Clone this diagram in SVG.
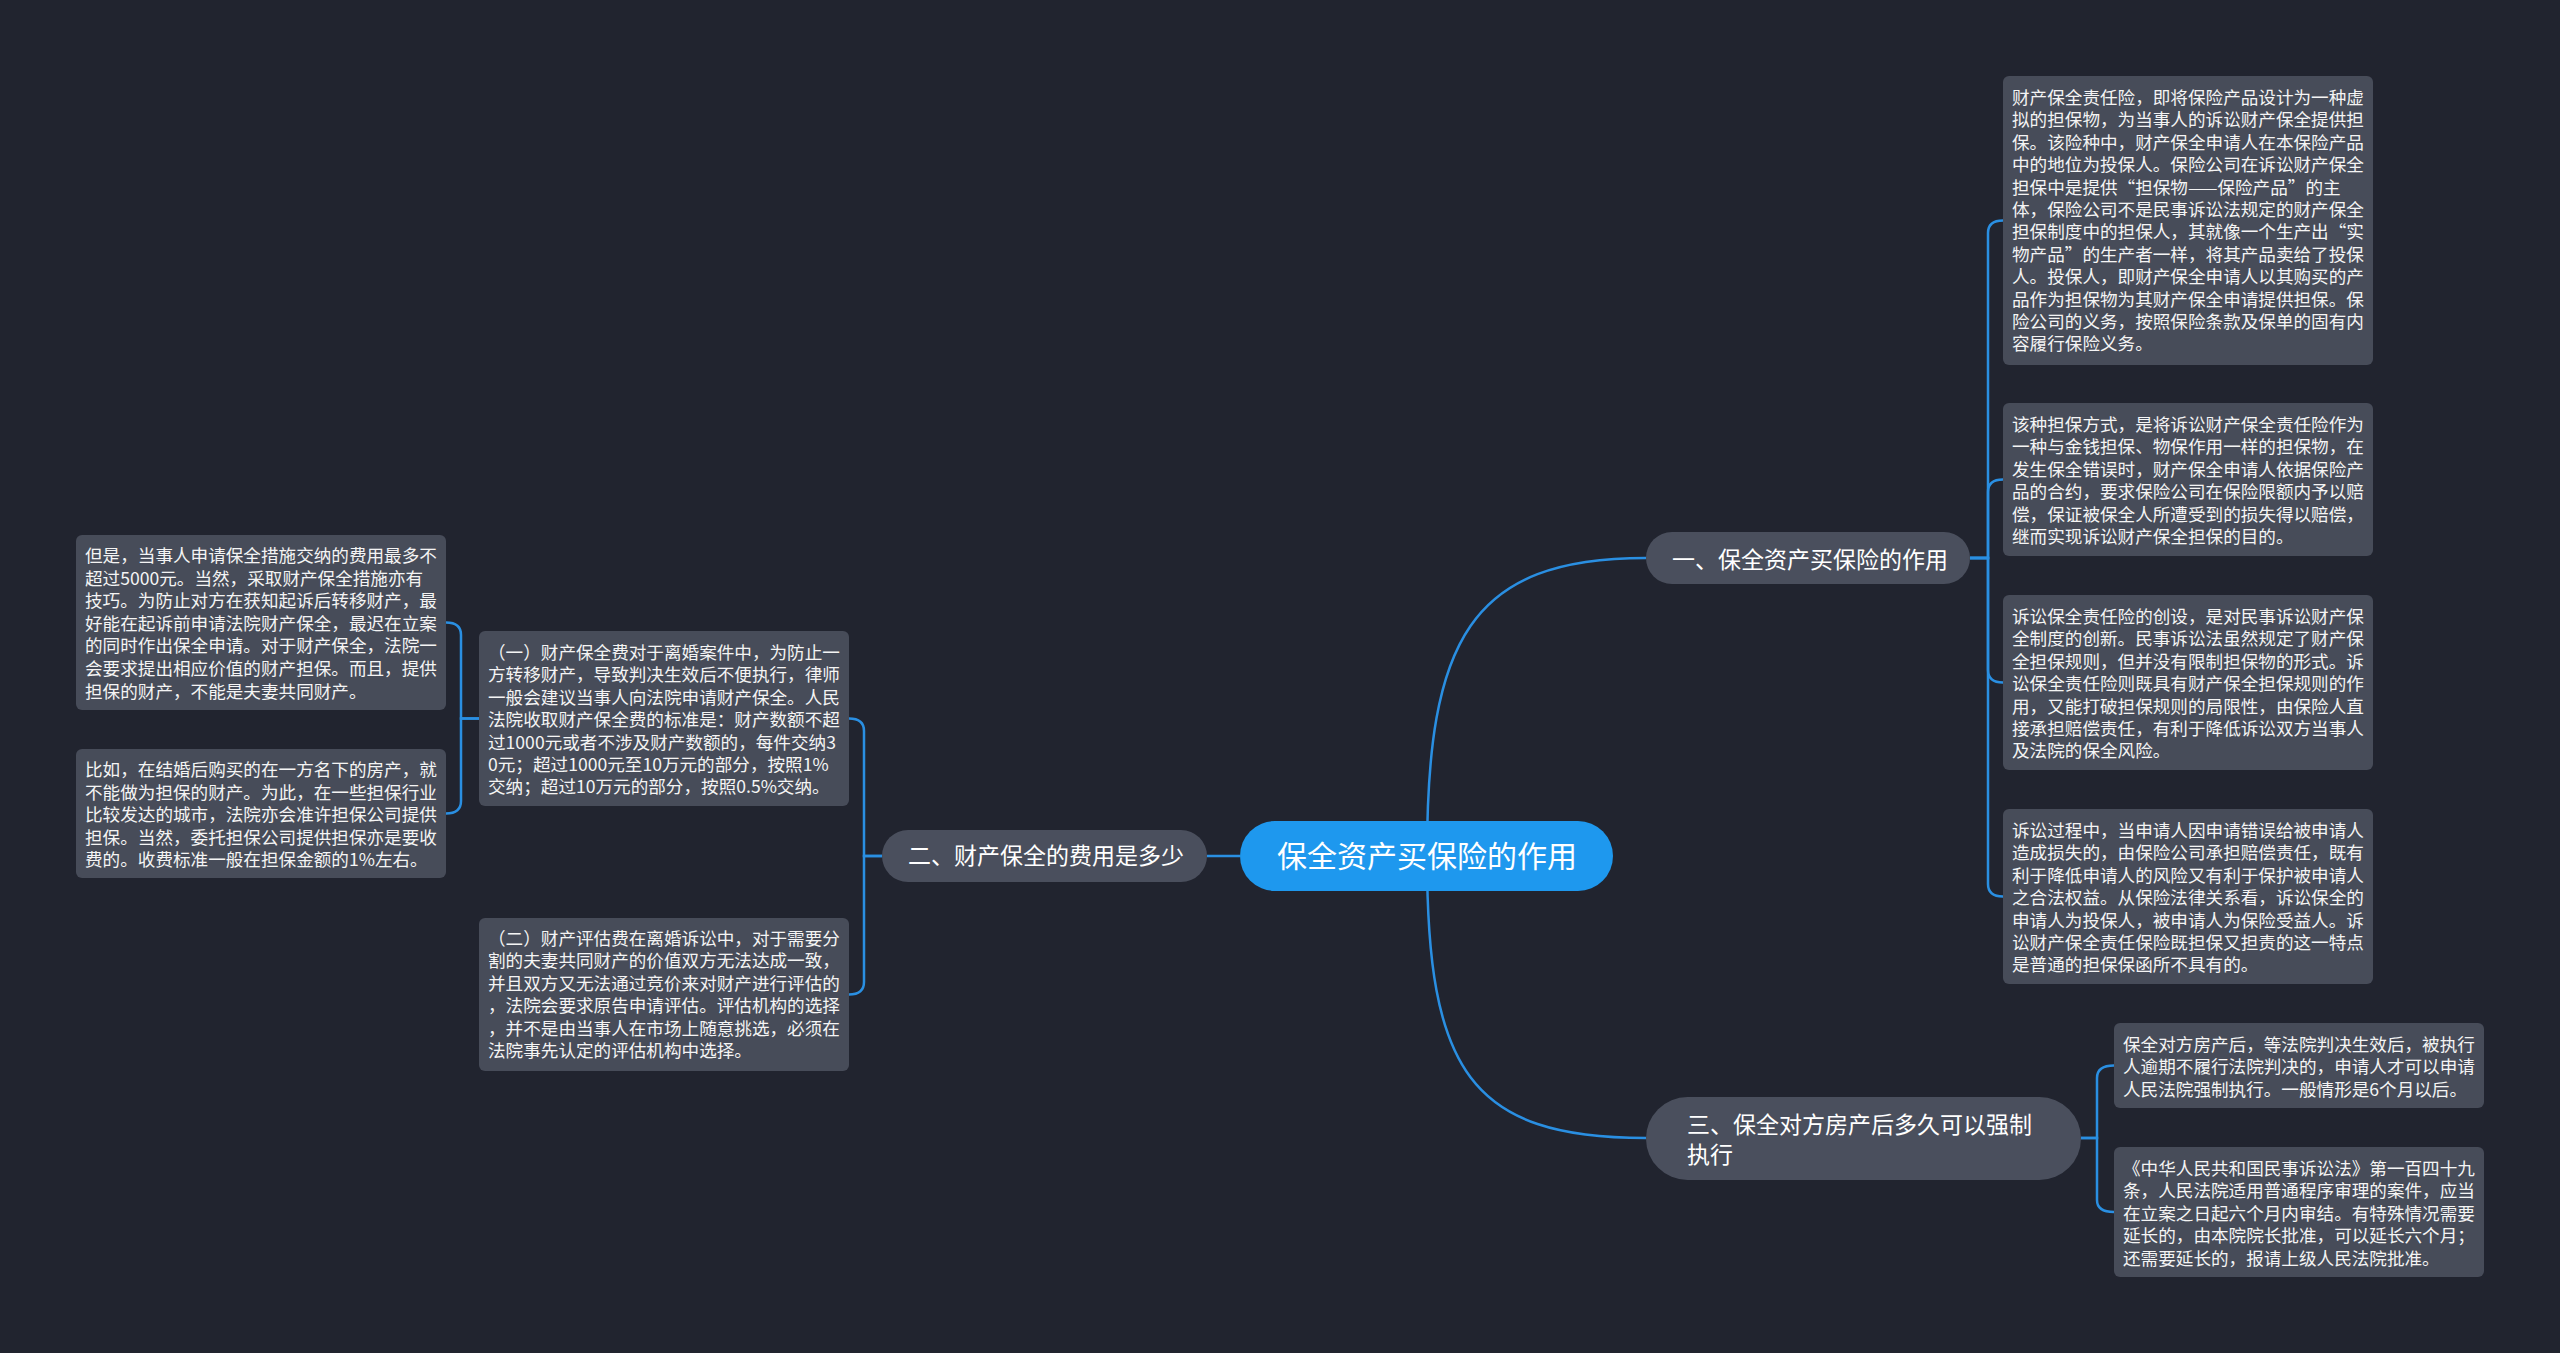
<svg xmlns="http://www.w3.org/2000/svg" width="2560" height="1353" viewBox="0 0 2560 1353">
<style>
.box{fill:#474c59}
.node{fill:#4a4f5d}
.root{fill:#1e98ee}
.t{font-family:"Noto Sans CJK SC","Noto Sans",sans-serif;font-size:17.6px;fill:#f4f4f4}
.nt{font-family:"Noto Sans CJK SC","Noto Sans",sans-serif;font-size:23px;fill:#ffffff}
.rt{font-family:"Noto Sans CJK SC","Noto Sans",sans-serif;font-size:30px;fill:#ffffff}
.c{fill:none;stroke:#2a8fe2;stroke-width:2.5}
</style>
<rect x="0" y="0" width="2560" height="1353" fill="#21242f"/>
<g id="connectors">
<path class="c" d="M1427,856 C1427,640 1470,558 1646,558"/>
<path class="c" d="M1427,856 C1427,1070 1470,1138 1646,1138"/>
<path class="c" d="M1240,856 H1207"/>
<path class="c" d="M1970,558 H1988 V233 Q1988,220.5 2003,220.5"/>
<path class="c" d="M1970,558 H1988 V492 Q1988,479.5 2003,479.5"/>
<path class="c" d="M1970,558 H1988 V670 Q1988,682.5 2003,682.5"/>
<path class="c" d="M1970,558 H1988 V884 Q1988,896.5 2003,896.5"/>
<path class="c" d="M2081,1138 H2097 V1078 Q2097,1065.5 2114,1065.5"/>
<path class="c" d="M2081,1138 H2097 V1200 Q2097,1212 2114,1212"/>
<path class="c" d="M882,856 H864 V731 Q864,718.5 849,718.5"/>
<path class="c" d="M882,856 H864 V982 Q864,994.5 849,994.5"/>
<path class="c" d="M479,718.5 H461 V635 Q461,622.5 446,622.5"/>
<path class="c" d="M479,718.5 H461 V801 Q461,813.5 446,813.5"/>
</g>
<g id="root">
<rect class="root" x="1240" y="821" width="373" height="70" rx="35"/>
<text class="rt" x="1277" y="867">保全资产买保险的作用</text>
</g>
<g id="n1">
<rect class="node" x="1646" y="532" width="324" height="52" rx="26"/>
<text class="nt" x="1672" y="568">一、保全资产买保险的作用</text>
</g>
<g id="n2">
<rect class="node" x="882" y="830" width="325" height="52" rx="26"/>
<text class="nt" x="908" y="864">二、财产保全的费用是多少</text>
</g>
<g id="n3">
<rect class="node" x="1646" y="1097" width="435" height="83" rx="41.5"/>
<text class="nt" x="1687" y="1133">三、保全对方房产后多久可以强制</text>
<text class="nt" x="1687" y="1163">执行</text>
</g>
<g id="b1">
<rect class="box" x="2003" y="76" width="370" height="289" rx="6"/>
<text class="t" x="2012" y="104">
<tspan x="2012" dy="0">财产保全责任险，即将保险产品设计为一种虚</tspan>
<tspan x="2012" dy="22.4">拟的担保物，为当事人的诉讼财产保全提供担</tspan>
<tspan x="2012" dy="22.4">保。该险种中，财产保全申请人在本保险产品</tspan>
<tspan x="2012" dy="22.4">中的地位为投保人。保险公司在诉讼财产保全</tspan>
<tspan x="2012" dy="22.4">担保中是提供“担保物——保险产品”的主</tspan>
<tspan x="2012" dy="22.4">体，保险公司不是民事诉讼法规定的财产保全</tspan>
<tspan x="2012" dy="22.4">担保制度中的担保人，其就像一个生产出“实</tspan>
<tspan x="2012" dy="22.4">物产品”的生产者一样，将其产品卖给了投保</tspan>
<tspan x="2012" dy="22.4">人。投保人，即财产保全申请人以其购买的产</tspan>
<tspan x="2012" dy="22.4">品作为担保物为其财产保全申请提供担保。保</tspan>
<tspan x="2012" dy="22.4">险公司的义务，按照保险条款及保单的固有内</tspan>
<tspan x="2012" dy="22.4">容履行保险义务。</tspan>
</text>
</g>
<g id="b2">
<rect class="box" x="2003" y="403" width="370" height="153" rx="6"/>
<text class="t" x="2012" y="431">
<tspan x="2012" dy="0">该种担保方式，是将诉讼财产保全责任险作为</tspan>
<tspan x="2012" dy="22.4">一种与金钱担保、物保作用一样的担保物，在</tspan>
<tspan x="2012" dy="22.4">发生保全错误时，财产保全申请人依据保险产</tspan>
<tspan x="2012" dy="22.4">品的合约，要求保险公司在保险限额内予以赔</tspan>
<tspan x="2012" dy="22.4">偿，保证被保全人所遭受到的损失得以赔偿，</tspan>
<tspan x="2012" dy="22.4">继而实现诉讼财产保全担保的目的。</tspan>
</text>
</g>
<g id="b3">
<rect class="box" x="2003" y="595" width="370" height="175" rx="6"/>
<text class="t" x="2012" y="623">
<tspan x="2012" dy="0">诉讼保全责任险的创设，是对民事诉讼财产保</tspan>
<tspan x="2012" dy="22.4">全制度的创新。民事诉讼法虽然规定了财产保</tspan>
<tspan x="2012" dy="22.4">全担保规则，但并没有限制担保物的形式。诉</tspan>
<tspan x="2012" dy="22.4">讼保全责任险则既具有财产保全担保规则的作</tspan>
<tspan x="2012" dy="22.4">用，又能打破担保规则的局限性，由保险人直</tspan>
<tspan x="2012" dy="22.4">接承担赔偿责任，有利于降低诉讼双方当事人</tspan>
<tspan x="2012" dy="22.4">及法院的保全风险。</tspan>
</text>
</g>
<g id="b4">
<rect class="box" x="2003" y="809" width="370" height="175" rx="6"/>
<text class="t" x="2012" y="837">
<tspan x="2012" dy="0">诉讼过程中，当申请人因申请错误给被申请人</tspan>
<tspan x="2012" dy="22.4">造成损失的，由保险公司承担赔偿责任，既有</tspan>
<tspan x="2012" dy="22.4">利于降低申请人的风险又有利于保护被申请人</tspan>
<tspan x="2012" dy="22.4">之合法权益。从保险法律关系看，诉讼保全的</tspan>
<tspan x="2012" dy="22.4">申请人为投保人，被申请人为保险受益人。诉</tspan>
<tspan x="2012" dy="22.4">讼财产保全责任保险既担保又担责的这一特点</tspan>
<tspan x="2012" dy="22.4">是普通的担保保函所不具有的。</tspan>
</text>
</g>
<g id="b5">
<rect class="box" x="2114" y="1023" width="370" height="85" rx="6"/>
<text class="t" x="2123" y="1051">
<tspan x="2123" dy="0">保全对方房产后，等法院判决生效后，被执行</tspan>
<tspan x="2123" dy="22.4">人逾期不履行法院判决的，申请人才可以申请</tspan>
<tspan x="2123" dy="22.4">人民法院强制执行。一般情形是6个月以后。</tspan>
</text>
</g>
<g id="b6">
<rect class="box" x="2114" y="1147" width="370" height="130" rx="6"/>
<text class="t" x="2123" y="1175">
<tspan x="2123" dy="0">《中华人民共和国民事诉讼法》第一百四十九</tspan>
<tspan x="2123" dy="22.4">条，人民法院适用普通程序审理的案件，应当</tspan>
<tspan x="2123" dy="22.4">在立案之日起六个月内审结。有特殊情况需要</tspan>
<tspan x="2123" dy="22.4">延长的，由本院院长批准，可以延长六个月；</tspan>
<tspan x="2123" dy="22.4">还需要延长的，报请上级人民法院批准。</tspan>
</text>
</g>
<g id="m1">
<rect class="box" x="479" y="631" width="370" height="175" rx="6"/>
<text class="t" x="488" y="659">
<tspan x="488" dy="0">（一）财产保全费对于离婚案件中，为防止一</tspan>
<tspan x="488" dy="22.4">方转移财产，导致判决生效后不便执行，律师</tspan>
<tspan x="488" dy="22.4">一般会建议当事人向法院申请财产保全。人民</tspan>
<tspan x="488" dy="22.4">法院收取财产保全费的标准是：财产数额不超</tspan>
<tspan x="488" dy="22.4">过1000元或者不涉及财产数额的，每件交纳3</tspan>
<tspan x="488" dy="22.4">0元；超过1000元至10万元的部分，按照1%</tspan>
<tspan x="488" dy="22.4">交纳；超过10万元的部分，按照0.5%交纳。</tspan>
</text>
</g>
<g id="m2">
<rect class="box" x="479" y="918" width="370" height="153" rx="6"/>
<text class="t" x="488" y="945">
<tspan x="488" dy="0">（二）财产评估费在离婚诉讼中，对于需要分</tspan>
<tspan x="488" dy="22.4">割的夫妻共同财产的价值双方无法达成一致，</tspan>
<tspan x="488" dy="22.4">并且双方又无法通过竞价来对财产进行评估的</tspan>
<tspan x="488" dy="22.4">，法院会要求原告申请评估。评估机构的选择</tspan>
<tspan x="488" dy="22.4">，并不是由当事人在市场上随意挑选，必须在</tspan>
<tspan x="488" dy="22.4">法院事先认定的评估机构中选择。</tspan>
</text>
</g>
<g id="l1">
<rect class="box" x="76" y="535" width="370" height="175" rx="6"/>
<text class="t" x="85" y="562">
<tspan x="85" dy="0">但是，当事人申请保全措施交纳的费用最多不</tspan>
<tspan x="85" dy="22.6">超过5000元。当然，采取财产保全措施亦有</tspan>
<tspan x="85" dy="22.6">技巧。为防止对方在获知起诉后转移财产，最</tspan>
<tspan x="85" dy="22.6">好能在起诉前申请法院财产保全，最迟在立案</tspan>
<tspan x="85" dy="22.6">的同时作出保全申请。对于财产保全，法院一</tspan>
<tspan x="85" dy="22.6">会要求提出相应价值的财产担保。而且，提供</tspan>
<tspan x="85" dy="22.6">担保的财产，不能是夫妻共同财产。</tspan>
</text>
</g>
<g id="l2">
<rect class="box" x="76" y="749" width="370" height="129" rx="6"/>
<text class="t" x="85" y="776">
<tspan x="85" dy="0">比如，在结婚后购买的在一方名下的房产，就</tspan>
<tspan x="85" dy="22.6">不能做为担保的财产。为此，在一些担保行业</tspan>
<tspan x="85" dy="22.6">比较发达的城市，法院亦会准许担保公司提供</tspan>
<tspan x="85" dy="22.6">担保。当然，委托担保公司提供担保亦是要收</tspan>
<tspan x="85" dy="22.6">费的。收费标准一般在担保金额的1%左右。</tspan>
</text>
</g>
</svg>
